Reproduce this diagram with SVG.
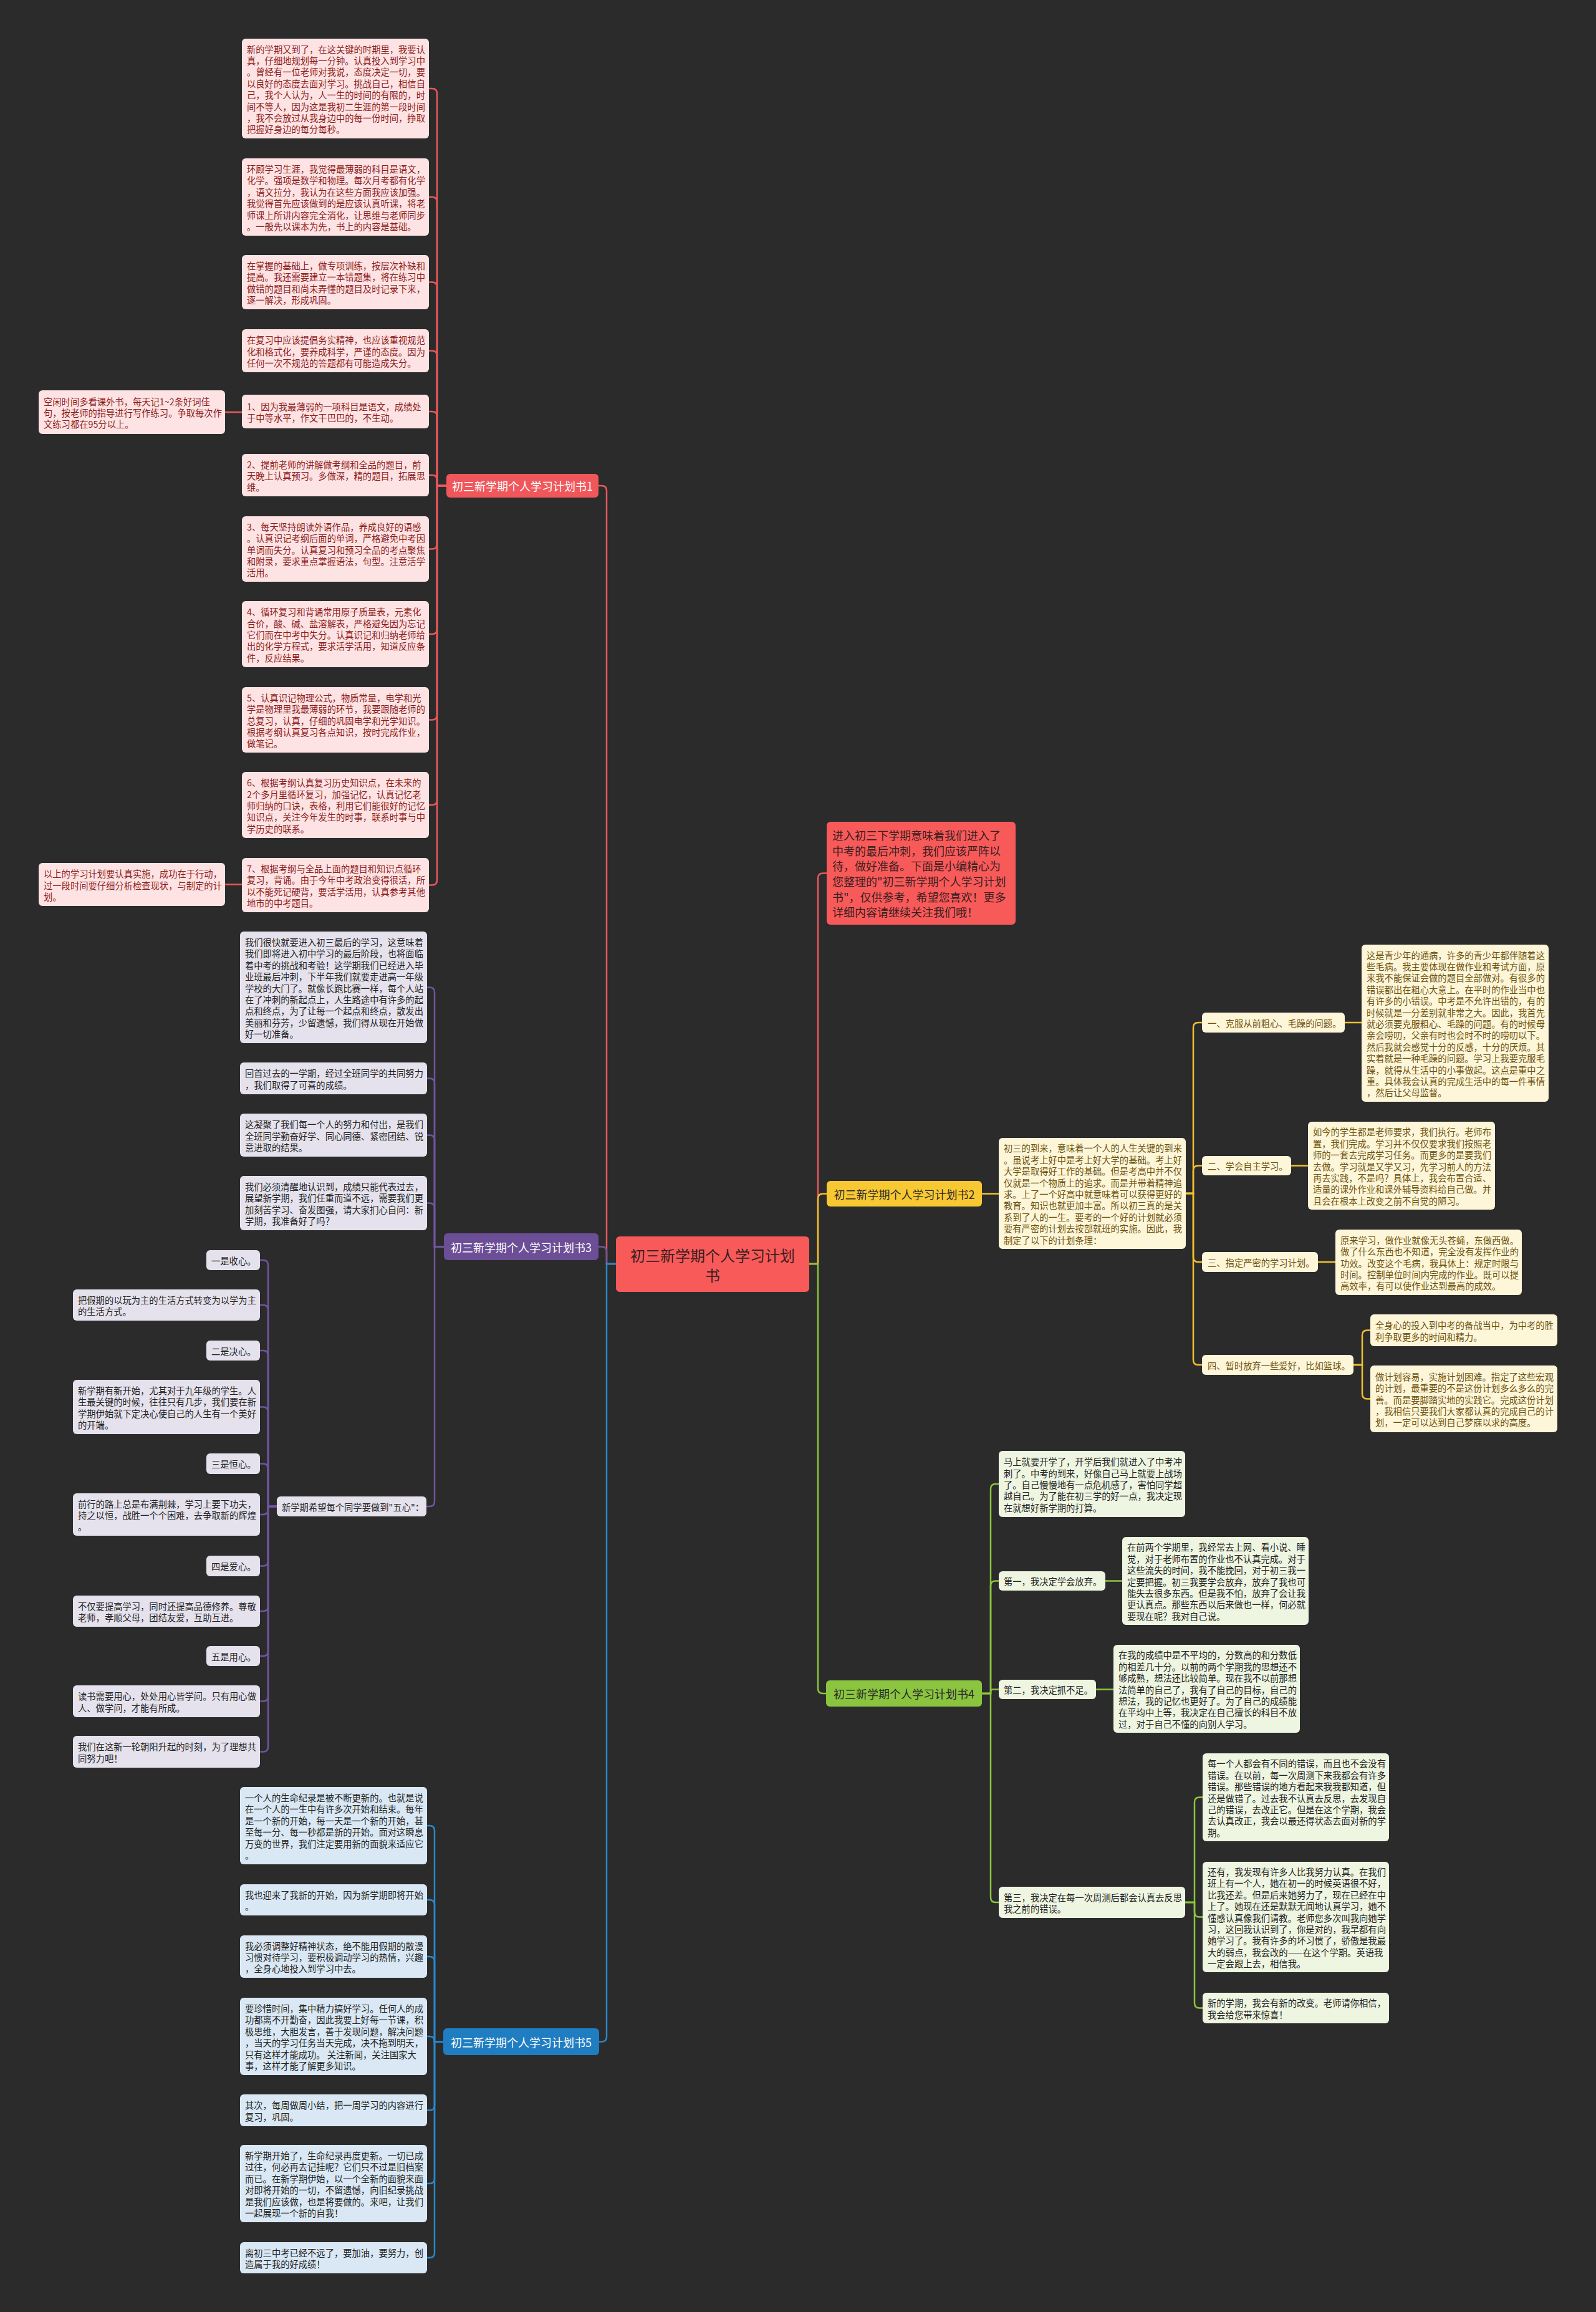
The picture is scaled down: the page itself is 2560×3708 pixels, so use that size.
<svg xmlns="http://www.w3.org/2000/svg" width="2560" height="3708" viewBox="0 0 2560 3708">
<style>
text{font-family:"Noto Sans CJK SC","Noto Sans",sans-serif;dominant-baseline:central}
.b{font-size:14.3px}
.r1{fill:#fde3e3}.x1{fill:#8e1c1c}
.r2{fill:#fdf6d9}.x2{fill:#6e520e}
.r3{fill:#e5e2ed}.x3{fill:#222}
.r4{fill:#eef5e1}.x4{fill:#222}
.r5{fill:#d9e8f4}.x5{fill:#222}
.lab{font-size:18px;text-anchor:middle}
.w{fill:#fff}.k{fill:#2a2a2a}
.c{fill:none;stroke-width:2.5;stroke-linecap:round}
.cr{stroke:#e8585c}.cy{stroke:#f2c12e}.cp{stroke:#6f55a0}.cg{stroke:#8bc53f}.cb{stroke:#2b87c9}
</style>
<rect x="0" y="0" width="2560" height="3708" fill="#2b2b2b"/>

<g id="connectors">
<!-- center to branches -->
<path class="c cr" stroke-width="3" d="M988 2027H973V787Q973 779 965 779H960"/>
<path class="c cp" stroke-width="3" d="M988 2027H973V2007.5Q973 1999.5 965 1999.5H960"/>
<path class="c cb" stroke-width="3" d="M988 2027H973V3266.5Q973 3274.5 965 3274.5H961"/>
<path class="c cr" stroke-width="3" d="M1298 2027H1312V1408.5Q1312 1400.5 1320 1400.5H1326"/>
<path class="c cy" stroke-width="3" d="M1298 2027H1312V1922.5Q1312 1914.5 1320 1914.5H1326"/>
<path class="c cg" stroke-width="3" d="M1298 2027H1312V2708Q1312 2716 1320 2716H1325"/>
<!-- branch 1 -->
<path class="c cr" d="M716 779H701V150Q701 142 693 142H688"/>
<path class="c cr" d="M716 779H701V324Q701 316 693 316H688"/>
<path class="c cr" d="M716 779H701V460.5Q701 452.5 693 452.5H688"/>
<path class="c cr" d="M716 779H701V570.5Q701 562.5 693 562.5H688"/>
<path class="c cr" d="M716 779H701V668Q701 660 693 660H688"/>
<path class="c cr" d="M716 779H701V770Q701 762 693 762H688"/>
<path class="c cr" d="M716 779H701V872.5Q701 880.5 693 880.5H688"/>
<path class="c cr" d="M716 779H701V1009Q701 1017 693 1017H688"/>
<path class="c cr" d="M716 779H701V1146.5Q701 1154.5 693 1154.5H688"/>
<path class="c cr" d="M716 779H701V1283Q701 1291 693 1291H688"/>
<path class="c cr" d="M716 779H701V1411.5Q701 1419.5 693 1419.5H688"/>
<path class="c cr" d="M389 661H361"/>
<path class="c cr" d="M389 1418.5H361"/>
<!-- branch 3 -->
<path class="c cp" d="M712 1999.5H697V1591.5Q697 1583.5 689 1583.5H685"/>
<path class="c cp" d="M712 1999.5H697V1737.5Q697 1729.5 689 1729.5H685"/>
<path class="c cp" d="M712 1999.5H697V1828.5Q697 1820.5 689 1820.5H685"/>
<path class="c cp" d="M712 1999.5H697V1937.5Q697 1929.5 689 1929.5H685"/>
<path class="c cp" d="M712 1999.5H697V2408Q697 2416 689 2416H684"/>
<path class="c cp" d="M444 2416H430V2029Q430 2021 422 2021H417"/>
<path class="c cp" d="M444 2416H430V2101Q430 2093 422 2093H417"/>
<path class="c cp" d="M444 2416H430V2174Q430 2166 422 2166H417"/>
<path class="c cp" d="M444 2416H430V2264.5Q430 2256.5 422 2256.5H417"/>
<path class="c cp" d="M444 2416H430V2355.5Q430 2347.5 422 2347.5H417"/>
<path class="c cp" d="M444 2416H430V2421Q430 2429 422 2429H417"/>
<path class="c cp" d="M444 2416H430V2503.5Q430 2511.5 422 2511.5H417"/>
<path class="c cp" d="M444 2416H430V2576Q430 2584 422 2584H417"/>
<path class="c cp" d="M444 2416H430V2648Q430 2656 422 2656H417"/>
<path class="c cp" d="M444 2416H430V2720.5Q430 2728.5 422 2728.5H417"/>
<path class="c cp" d="M444 2416H430V2801.5Q430 2809.5 422 2809.5H417"/>
<!-- branch 5 -->
<path class="c cb" d="M711 3274.5H697V2936Q697 2928 689 2928H685"/>
<path class="c cb" d="M711 3274.5H697V3055Q697 3047 689 3047H685"/>
<path class="c cb" d="M711 3274.5H697V3146Q697 3138 689 3138H685"/>
<path class="c cb" d="M711 3274.5H697V3274Q697 3266 689 3266H685"/>
<path class="c cb" d="M711 3274.5H697V3376.5Q697 3384.5 689 3384.5H685"/>
<path class="c cb" d="M711 3274.5H697V3494Q697 3502 689 3502H685"/>
<path class="c cb" d="M711 3274.5H697V3613Q697 3621 689 3621H685"/>
<!-- branch 2 -->
<path class="c cy" d="M1575 1914.5H1602"/>
<path class="c cy" d="M1902 1914H1914V1648Q1914 1640 1922 1640H1928"/>
<path class="c cy" d="M1902 1914H1914V1877.5Q1914 1869.5 1922 1869.5H1928"/>
<path class="c cy" d="M1902 1914H1914V2016Q1914 2024 1922 2024H1928"/>
<path class="c cy" d="M1902 1914H1914V2181Q1914 2189 1922 2189H1928"/>
<path class="c cy" d="M2157 1640H2184"/>
<path class="c cy" d="M2071 1869.5H2098"/>
<path class="c cy" d="M2114 2024H2142"/>
<path class="c cy" d="M2171 2189H2185V2141.5Q2185 2133.5 2193 2133.5H2198"/>
<path class="c cy" d="M2171 2189H2185V2235.5Q2185 2243.5 2193 2243.5H2198"/>
<!-- branch 4 -->
<path class="c cg" d="M1575 2716H1589V2388Q1589 2380 1597 2380H1602"/>
<path class="c cg" d="M1575 2716H1589V2543.5Q1589 2535.5 1597 2535.5H1602"/>
<path class="c cg" d="M1575 2716H1589V2713Q1589 2709.5 1592.5 2709.5H1602"/>
<path class="c cg" d="M1575 2716H1589V3043Q1589 3051 1597 3051H1602"/>
<path class="c cg" d="M1773 2535.5H1800"/>
<path class="c cg" d="M1758 2709.5H1786"/>
<path class="c cg" d="M1901 3051H1916V2890.5Q1916 2882.5 1924 2882.5H1929"/>
<path class="c cg" d="M1901 3051H1916V3066.5Q1916 3074.5 1924 3074.5H1929"/>
<path class="c cg" d="M1901 3051H1916V3212.5Q1916 3220.5 1924 3220.5H1929"/>
</g>

<g id="center">
<rect x="988" y="1983" width="310" height="89" rx="6" fill="#f85a5a"/>
<text x="1143" font-size="24px" text-anchor="middle" fill="#3a1f1f"><tspan x="1143" y="2012">初三新学期个人学习计划</tspan><tspan x="1143" y="2044">书</tspan></text>
</g>

<g id="intro">
<rect x="1326" y="1318" width="303" height="165" rx="6" fill="#f85a5a"/>
<text font-size="18px" fill="#3a1f1f"><tspan x="1335" y="1338.8">进入初三下学期意味着我们进入了</tspan><tspan x="1335" y="1363.5">中考的最后冲刺，我们应该严阵以</tspan><tspan x="1335" y="1388.2">待，做好准备。下面是小编精心为</tspan><tspan x="1335" y="1412.9">您整理的"初三新学期个人学习计划</tspan><tspan x="1335" y="1437.6">书"，仅供参考，希望您喜欢！更多</tspan><tspan x="1335" y="1462.3">详细内容请继续关注我们哦！</tspan></text>
</g>

<!-- Branch 1 -->
<g id="branch1">
<rect x="716" y="760" width="244" height="38" rx="6" fill="#f0575b"/>
<text class="lab w" x="838" y="779">初三新学期个人学习计划书1</text>
</g>
<g id="a1"><rect class="r1" x="388" y="62" width="300" height="160" rx="6"/>
<text class="b x1"><tspan x="396" y="77.6">新的学期又到了，在这关键的时期里，我要认</tspan><tspan x="396" y="96">真，仔细地规划每一分钟。认真投入到学习中</tspan><tspan x="396" y="114.4">。曾经有一位老师对我说，态度决定一切，要</tspan><tspan x="396" y="132.8">以良好的态度去面对学习。挑战自己，相信自</tspan><tspan x="396" y="151.2">己，我个人认为，人一生的时间的有限的，时</tspan><tspan x="396" y="169.6">间不等人，因为这是我初二生涯的第一段时间</tspan><tspan x="396" y="188">，我不会放过从我身边中的每一份时间，挣取</tspan><tspan x="396" y="206.4">把握好身边的每分每秒。</tspan></text></g>
<g id="a2"><rect class="r1" x="388" y="254" width="300" height="124" rx="6"/>
<text class="b x1"><tspan x="396" y="270">环顾学习生涯，我觉得最薄弱的科目是语文，</tspan><tspan x="396" y="288.4">化学。强项是数学和物理。每次月考都有化学</tspan><tspan x="396" y="306.8">，语文拉分，我认为在这些方面我应该加强。</tspan><tspan x="396" y="325.2">我觉得首先应该做到的是应该认真听课，将老</tspan><tspan x="396" y="343.6">师课上所讲内容完全消化，让思维与老师同步</tspan><tspan x="396" y="362">。一般先以课本为先，书上的内容是基础。</tspan></text></g>
<g id="a3"><rect class="r1" x="388" y="409" width="300" height="87" rx="6"/>
<text class="b x1"><tspan x="396" y="424.9">在掌握的基础上，做专项训练，按层次补缺和</tspan><tspan x="396" y="443.3">提高。我还需要建立一本错题集，将在练习中</tspan><tspan x="396" y="461.7">做错的题目和尚未弄懂的题目及时记录下来，</tspan><tspan x="396" y="480.1">逐一解决，形成巩固。</tspan></text></g>
<g id="a4"><rect class="r1" x="388" y="528" width="300" height="69" rx="6"/>
<text class="b x1"><tspan x="396" y="544.1">在复习中应该提倡务实精神，也应该重视规范</tspan><tspan x="396" y="562.5">化和格式化，要养成科学，严谨的态度。因为</tspan><tspan x="396" y="580.9">任何一次不规范的答题都有可能造成失分。</tspan></text></g>
<g id="a5"><rect class="r1" x="388" y="633" width="300" height="54" rx="6"/>
<text class="b x1"><tspan x="396" y="650.8">1、因为我最薄弱的一项科目是语文，成绩处</tspan><tspan x="396" y="669.2">于中等水平，作文干巴巴的，不生动。</tspan></text></g>
<g id="n1"><rect class="r1" x="62" y="626" width="299" height="70" rx="6"/>
<text class="b x1"><tspan x="70" y="642.6">空闲时间多看课外书，每天记1~2条好词佳</tspan><tspan x="70" y="661">句，按老师的指导进行写作练习。争取每次作</tspan><tspan x="70" y="679.4">文练习都在95分以上。</tspan></text></g>
<g id="a6"><rect class="r1" x="388" y="728" width="300" height="68" rx="6"/>
<text class="b x1"><tspan x="396" y="743.6">2、提前老师的讲解做考纲和全品的题目，前</tspan><tspan x="396" y="762">天晚上认真预习。多做深，精的题目，拓展思</tspan><tspan x="396" y="780.4">维。</tspan></text></g>
<g id="a7"><rect class="r1" x="388" y="828" width="300" height="105" rx="6"/>
<text class="b x1"><tspan x="396" y="843.7">3、每天坚持朗读外语作品，养成良好的语感</tspan><tspan x="396" y="862.1">。认真识记考纲后面的单词，严格避免中考因</tspan><tspan x="396" y="880.5">单词而失分。认真复习和预习全品的考点聚焦</tspan><tspan x="396" y="898.9">和附录，要求重点掌握语法，句型。注意活学</tspan><tspan x="396" y="917.3">活用。</tspan></text></g>
<g id="a8"><rect class="r1" x="388" y="964" width="300" height="106" rx="6"/>
<text class="b x1"><tspan x="396" y="980.2">4、循环复习和背诵常用原子质量表，元素化</tspan><tspan x="396" y="998.6">合价，酸、碱、盐溶解表，严格避免因为忘记</tspan><tspan x="396" y="1017">它们而在中考中失分。认真识记和归纳老师给</tspan><tspan x="396" y="1035.4">出的化学方程式，要求活学活用，知道反应条</tspan><tspan x="396" y="1053.8">件，反应结果。</tspan></text></g>
<g id="a9"><rect class="r1" x="388" y="1102" width="300" height="105" rx="6"/>
<text class="b x1"><tspan x="396" y="1117.7">5、认真识记物理公式，物质常量，电学和光</tspan><tspan x="396" y="1136.1">学是物理里我最薄弱的环节，我要跟随老师的</tspan><tspan x="396" y="1154.5">总复习，认真，仔细的巩固电学和光学知识。</tspan><tspan x="396" y="1172.9">根据考纲认真复习各点知识，按时完成作业，</tspan><tspan x="396" y="1191.3">做笔记。</tspan></text></g>
<g id="a10"><rect class="r1" x="388" y="1238" width="300" height="106" rx="6"/>
<text class="b x1"><tspan x="396" y="1254.2">6、根据考纲认真复习历史知识点，在未来的</tspan><tspan x="396" y="1272.6">2个多月里循环复习，加强记忆，认真记忆老</tspan><tspan x="396" y="1291">师归纳的口诀，表格，利用它们能很好的记忆</tspan><tspan x="396" y="1309.4">知识点，关注今年发生的时事，联系时事与中</tspan><tspan x="396" y="1327.8">学历史的联系。</tspan></text></g>
<g id="a11"><rect class="r1" x="388" y="1376" width="300" height="87" rx="6"/>
<text class="b x1"><tspan x="396" y="1391.9">7、根据考纲与全品上面的题目和知识点循环</tspan><tspan x="396" y="1410.3">复习，背诵。由于今年中考政治变得很活，所</tspan><tspan x="396" y="1428.7">以不能死记硬背，要活学活用，认真参考其他</tspan><tspan x="396" y="1447.1">地市的中考题目。</tspan></text></g>
<g id="n2"><rect class="r1" x="62" y="1384" width="299" height="69" rx="6"/>
<text class="b x1"><tspan x="70" y="1400.1">以上的学习计划要认真实施，成功在于行动，</tspan><tspan x="70" y="1418.5">过一段时间要仔细分析检查现状，与制定的计</tspan><tspan x="70" y="1436.9">划。</tspan></text></g>

<!-- Branch 3 -->
<g id="branch3">
<rect x="712" y="1978" width="248" height="43" rx="6" fill="#6b4e96"/>
<text class="lab w" x="836" y="1999.5">初三新学期个人学习计划书3</text>
</g>
<g id="b1"><rect class="r3" x="385" y="1494" width="300" height="179" rx="6"/>
<text class="b x3"><tspan x="393" y="1509.9">我们很快就要进入初三最后的学习，这意味着</tspan><tspan x="393" y="1528.3">我们即将进入初中学习的最后阶段，也将面临</tspan><tspan x="393" y="1546.7">着中考的挑战和考验！这学期我们已经进入毕</tspan><tspan x="393" y="1565.1">业班最后冲刺，下半年我们就要走进高一年级</tspan><tspan x="393" y="1583.5">学校的大门了。就像长跑比赛一样，每个人站</tspan><tspan x="393" y="1601.9">在了冲刺的新起点上，人生路途中有许多的起</tspan><tspan x="393" y="1620.3">点和终点，为了让每一个起点和终点，散发出</tspan><tspan x="393" y="1638.7">美丽和芬芳，少留遗憾，我们得从现在开始做</tspan><tspan x="393" y="1657.1">好一切准备。</tspan></text></g>
<g id="b2"><rect class="r3" x="385" y="1704" width="300" height="51" rx="6"/>
<text class="b x3"><tspan x="393" y="1720.3">回首过去的一学期，经过全班同学的共同努力</tspan><tspan x="393" y="1738.7">，我们取得了可喜的成绩。</tspan></text></g>
<g id="b3"><rect class="r3" x="385" y="1786" width="300" height="69" rx="6"/>
<text class="b x3"><tspan x="393" y="1802.1">这凝聚了我们每一个人的努力和付出，是我们</tspan><tspan x="393" y="1820.5">全班同学勤奋好学、同心同德、紧密团结、锐</tspan><tspan x="393" y="1838.9">意进取的结果。</tspan></text></g>
<g id="b4"><rect class="r3" x="385" y="1886" width="300" height="87" rx="6"/>
<text class="b x3"><tspan x="393" y="1901.9">我们必须清醒地认识到，成绩只能代表过去，</tspan><tspan x="393" y="1920.3">展望新学期，我们任重而道不远，需要我们更</tspan><tspan x="393" y="1938.7">加刻苦学习、奋发图强，请大家扪心自问：新</tspan><tspan x="393" y="1957.1">学期，我准备好了吗？</tspan></text></g>
<g id="c0"><rect class="r3" x="444" y="2400" width="240" height="32" rx="6"/>
<text class="b x3" x="452" y="2416">新学期希望每个同学要做到"五心"：</text></g>
<g id="c1"><rect class="r3" x="331" y="2005" width="86" height="32" rx="6"/>
<text class="b x3" x="339" y="2021">一是收心。</text></g>
<g id="c2"><rect class="r3" x="117" y="2068" width="300" height="50" rx="6"/>
<text class="b x3"><tspan x="125" y="2083.8">把假期的以玩为主的生活方式转变为以学为主</tspan><tspan x="125" y="2102.2">的生活方式。</tspan></text></g>
<g id="c3"><rect class="r3" x="331" y="2150" width="86" height="32" rx="6"/>
<text class="b x3" x="339" y="2166">二是决心。</text></g>
<g id="c4"><rect class="r3" x="117" y="2213" width="300" height="87" rx="6"/>
<text class="b x3"><tspan x="125" y="2228.9">新学期有新开始，尤其对于九年级的学生。人</tspan><tspan x="125" y="2247.3">生最关键的时候，往往只有几步，我们要在新</tspan><tspan x="125" y="2265.7">学期伊始就下定决心使自己的人生有一个美好</tspan><tspan x="125" y="2284.1">的开端。</tspan></text></g>
<g id="c5"><rect class="r3" x="331" y="2331" width="86" height="33" rx="6"/>
<text class="b x3" x="339" y="2347.5">三是恒心。</text></g>
<g id="c6"><rect class="r3" x="117" y="2395" width="300" height="68" rx="6"/>
<text class="b x3"><tspan x="125" y="2410.6">前行的路上总是布满荆棘，学习上要下功夫，</tspan><tspan x="125" y="2429">持之以恒，战胜一个个困难，去争取新的辉煌</tspan><tspan x="125" y="2447.4">。</tspan></text></g>
<g id="c7"><rect class="r3" x="331" y="2495" width="86" height="33" rx="6"/>
<text class="b x3" x="339" y="2511.5">四是爱心。</text></g>
<g id="c8"><rect class="r3" x="117" y="2559" width="300" height="50" rx="6"/>
<text class="b x3"><tspan x="125" y="2574.8">不仅要提高学习，同时还提高品德修养。尊敬</tspan><tspan x="125" y="2593.2">老师，孝顺父母，团结友爱，互助互进。</tspan></text></g>
<g id="c9"><rect class="r3" x="331" y="2640" width="86" height="32" rx="6"/>
<text class="b x3" x="339" y="2656">五是用心。</text></g>
<g id="c10"><rect class="r3" x="117" y="2703" width="300" height="51" rx="6"/>
<text class="b x3"><tspan x="125" y="2719.3">读书需要用心，处处用心皆学问。只有用心做</tspan><tspan x="125" y="2737.7">人、做学问，才能有所成。</tspan></text></g>
<g id="c11"><rect class="r3" x="117" y="2784" width="300" height="51" rx="6"/>
<text class="b x3"><tspan x="125" y="2800.3">我们在这新一轮朝阳升起的时刻，为了理想共</tspan><tspan x="125" y="2818.7">同努力吧！</tspan></text></g>

<!-- Branch 5 -->
<g id="branch5">
<rect x="711" y="3253" width="250" height="43" rx="6" fill="#1f7dc2"/>
<text class="lab w" x="836" y="3274.5">初三新学期个人学习计划书5</text>
</g>
<g id="d1"><rect class="r5" x="385" y="2866" width="300" height="124" rx="6"/>
<text class="b x5"><tspan x="393" y="2882">一个人的生命纪录是被不断更新的。也就是说</tspan><tspan x="393" y="2900.4">在一个人的一生中有许多次开始和结束。每年</tspan><tspan x="393" y="2918.8">是一个新的开始，每一天是一个新的开始，甚</tspan><tspan x="393" y="2937.2">至每一分、每一秒都是新的开始。面对这瞬息</tspan><tspan x="393" y="2955.6">万变的世界，我们注定要用新的面貌来适应它</tspan><tspan x="393" y="2974">。</tspan></text></g>
<g id="d2"><rect class="r5" x="385" y="3022" width="300" height="50" rx="6"/>
<text class="b x5"><tspan x="393" y="3037.8">我也迎来了我新的开始，因为新学期即将开始</tspan><tspan x="393" y="3056.2">。</tspan></text></g>
<g id="d3"><rect class="r5" x="385" y="3104" width="300" height="68" rx="6"/>
<text class="b x5"><tspan x="393" y="3119.6">我必须调整好精神状态，绝不能用假期的散漫</tspan><tspan x="393" y="3138">习惯对待学习，要积极调动学习的热情，兴趣</tspan><tspan x="393" y="3156.4">，全身心地投入到学习中去。</tspan></text></g>
<g id="d4"><rect class="r5" x="385" y="3204" width="300" height="124" rx="6"/>
<text class="b x5"><tspan x="393" y="3220">要珍惜时间，集中精力搞好学习。任何人的成</tspan><tspan x="393" y="3238.4">功都离不开勤奋，因此我要上好每一节课，积</tspan><tspan x="393" y="3256.8">极思维，大胆发言，善于发现问题，解决问题</tspan><tspan x="393" y="3275.2">，当天的学习任务当天完成，决不拖到明天，</tspan><tspan x="393" y="3293.6">只有这样才能成功。 关注新闻，关注国家大</tspan><tspan x="393" y="3312">事，这样才能了解更多知识。</tspan></text></g>
<g id="d5"><rect class="r5" x="385" y="3359" width="300" height="51" rx="6"/>
<text class="b x5"><tspan x="393" y="3375.3">其次，每周做周小结，把一周学习的内容进行</tspan><tspan x="393" y="3393.7">复习，巩固。</tspan></text></g>
<g id="d6"><rect class="r5" x="385" y="3440" width="300" height="124" rx="6"/>
<text class="b x5"><tspan x="393" y="3456">新学期开始了，生命纪录再度更新。一切已成</tspan><tspan x="393" y="3474.4">过往，何必再去记挂呢？它们只不过是旧档案</tspan><tspan x="393" y="3492.8">而已。在新学期伊始，以一个全新的面貌来面</tspan><tspan x="393" y="3511.2">对即将开始的一切，不留遗憾，向旧纪录挑战</tspan><tspan x="393" y="3529.6">是我们应该做，也是将要做的。来吧，让我们</tspan><tspan x="393" y="3548">一起展现一个新的自我！</tspan></text></g>
<g id="d7"><rect class="r5" x="385" y="3596" width="300" height="50" rx="6"/>
<text class="b x5"><tspan x="393" y="3611.8">离初三中考已经不远了，要加油，要努力，创</tspan><tspan x="393" y="3630.2">造属于我的好成绩！</tspan></text></g>

<!-- Branch 2 -->
<g id="branch2">
<rect x="1326" y="1894" width="249" height="41" rx="6" fill="#f8c832"/>
<text class="lab k" x="1450.5" y="1914.5">初三新学期个人学习计划书2</text>
</g>
<g id="e0"><rect class="r2" x="1602" y="1825" width="300" height="178" rx="6"/>
<text class="b x2"><tspan x="1610" y="1840.4">初三的到来，意味着一个人的人生关键的到来</tspan><tspan x="1610" y="1858.8">。虽说考上好中是考上好大学的基础。考上好</tspan><tspan x="1610" y="1877.2">大学是取得好工作的基础。但是考高中并不仅</tspan><tspan x="1610" y="1895.6">仅就是一个物质上的追求。而是并带着精神追</tspan><tspan x="1610" y="1914">求。上了一个好高中就意味着可以获得更好的</tspan><tspan x="1610" y="1932.4">教育。知识也就更加丰富。所以初三真的是关</tspan><tspan x="1610" y="1950.8">系到了人的一生。要考的一个好的计划就必须</tspan><tspan x="1610" y="1969.2">要有严密的计划去按部就班的实施。因此，我</tspan><tspan x="1610" y="1987.6">制定了以下的计划条理：</tspan></text></g>
<g id="f1"><rect class="r2" x="1928" y="1624" width="229" height="32" rx="6"/>
<text class="b x2" x="1937" y="1640">一、克服从前粗心、毛躁的问题。</text></g>
<g id="g1"><rect class="r2" x="2184" y="1515" width="300" height="252" rx="6"/>
<text class="b x2"><tspan x="2192" y="1530.6">这是青少年的通病，许多的青少年都伴随着这</tspan><tspan x="2192" y="1549">些毛病。我主要体现在做作业和考试方面，原</tspan><tspan x="2192" y="1567.4">来我不能保证会做的题目全部做对。有很多的</tspan><tspan x="2192" y="1585.8">错误都出在粗心大意上。在平时的作业当中也</tspan><tspan x="2192" y="1604.2">有许多的小错误。中考是不允许出错的，有的</tspan><tspan x="2192" y="1622.6">时候就是一分差别就非常之大。因此，我首先</tspan><tspan x="2192" y="1641">就必须要克服粗心、毛躁的问题。有的时候母</tspan><tspan x="2192" y="1659.4">亲会唠叨，父亲有时也会时不时的唠叨以下。</tspan><tspan x="2192" y="1677.8">然后我就会感觉十分的反感，十分的厌烦。其</tspan><tspan x="2192" y="1696.2">实着就是一种毛躁的问题。学习上我要克服毛</tspan><tspan x="2192" y="1714.6">躁，就得从生活中的小事做起。这点是重中之</tspan><tspan x="2192" y="1733">重。具体我会认真的完成生活中的每一件事情</tspan><tspan x="2192" y="1751.4">，然后让父母监督。</tspan></text></g>
<g id="f2"><rect class="r2" x="1928" y="1854" width="143" height="31" rx="6"/>
<text class="b x2" x="1937" y="1869.5">二、学会自主学习。</text></g>
<g id="g2"><rect class="r2" x="2098" y="1799" width="300" height="141" rx="6"/>
<text class="b x2"><tspan x="2106" y="1814.3">如今的学生都是老师要求，我们执行。老师布</tspan><tspan x="2106" y="1832.7">置，我们完成。学习并不仅仅要求我们按照老</tspan><tspan x="2106" y="1851.1">师的一套去完成学习任务。而更多的是要我们</tspan><tspan x="2106" y="1869.5">去做。学习就是又学又习，先学习前人的方法</tspan><tspan x="2106" y="1887.9">再去实践，不是吗？具体上，我会布置合适、</tspan><tspan x="2106" y="1906.3">适量的课外作业和课外辅导资料给自己做。并</tspan><tspan x="2106" y="1924.7">且会在根本上改变之前不自觉的陋习。</tspan></text></g>
<g id="f3"><rect class="r2" x="1928" y="2008" width="186" height="32" rx="6"/>
<text class="b x2" x="1937" y="2024">三、指定严密的学习计划。</text></g>
<g id="g3"><rect class="r2" x="2142" y="1972" width="299" height="105" rx="6"/>
<text class="b x2"><tspan x="2150" y="1987.7">原来学习，做作业就像无头苍蝇，东做西做。</tspan><tspan x="2150" y="2006.1">做了什么东西也不知道，完全没有发挥作业的</tspan><tspan x="2150" y="2024.5">功效。改变这个毛病，我具体上：规定时限与</tspan><tspan x="2150" y="2042.9">时间。控制单位时间内完成的作业。既可以提</tspan><tspan x="2150" y="2061.3">高效率，有可以使作业达到最高的成效。</tspan></text></g>
<g id="f4"><rect class="r2" x="1928" y="2173" width="243" height="32" rx="6"/>
<text class="b x2" x="1937" y="2189">四、暂时放弃一些爱好，比如篮球。</text></g>
<g id="g4a"><rect class="r2" x="2198" y="2108" width="300" height="51" rx="6"/>
<text class="b x2"><tspan x="2206" y="2124.3">全身心的投入到中考的备战当中，为中考的胜</tspan><tspan x="2206" y="2142.7">利争取更多的时间和精力。</tspan></text></g>
<g id="g4b"><rect class="r2" x="2198" y="2190" width="300" height="107" rx="6"/>
<text class="b x2"><tspan x="2206" y="2206.7">做计划容易，实施计划困难。指定了这些宏观</tspan><tspan x="2206" y="2225.1">的计划，最重要的不是这份计划多么多么的完</tspan><tspan x="2206" y="2243.5">善。而是要脚踏实地的实践它。完成这份计划</tspan><tspan x="2206" y="2261.9">，我相信只要我们大家都认真的完成自己的计</tspan><tspan x="2206" y="2280.3">划，一定可以达到自己梦寐以求的高度。</tspan></text></g>

<!-- Branch 4 -->
<g id="branch4">
<rect x="1325" y="2695" width="250" height="42" rx="6" fill="#8bc53f"/>
<text class="lab k" x="1450" y="2716">初三新学期个人学习计划书4</text>
</g>
<g id="h0"><rect class="r4" x="1602" y="2327" width="299" height="106" rx="6"/>
<text class="b x4"><tspan x="1610" y="2343.2">马上就要开学了，开学后我们就进入了中考冲</tspan><tspan x="1610" y="2361.6">刺了。中考的到来，好像自己马上就要上战场</tspan><tspan x="1610" y="2380">了。自己慢慢地有一点危机感了，害怕同学超</tspan><tspan x="1610" y="2398.4">越自己。为了能在初三学的好一点，我决定现</tspan><tspan x="1610" y="2416.8">在就想好新学期的打算。</tspan></text></g>
<g id="h1"><rect class="r4" x="1602" y="2520" width="171" height="31" rx="6"/>
<text class="b x4" x="1610" y="2535.5">第一，我决定学会放弃。</text></g>
<g id="i1"><rect class="r4" x="1800" y="2465" width="299" height="141" rx="6"/>
<text class="b x4"><tspan x="1808" y="2480.3">在前两个学期里，我经常去上网、看小说、睡</tspan><tspan x="1808" y="2498.7">觉，对于老师布置的作业也不认真完成。对于</tspan><tspan x="1808" y="2517.1">这些流失的时间，我不能挽回，对于初三我一</tspan><tspan x="1808" y="2535.5">定要把握。初三我要学会放弃，放弃了我也可</tspan><tspan x="1808" y="2553.9">能失去很多东西。但是我不怕，放弃了会让我</tspan><tspan x="1808" y="2572.3">更认真点。那些东西以后来做也一样，何必就</tspan><tspan x="1808" y="2590.7">要现在呢？我对自己说。</tspan></text></g>
<g id="h2"><rect class="r4" x="1602" y="2694" width="156" height="31" rx="6"/>
<text class="b x4" x="1610" y="2709.5">第二，我决定抓不足。</text></g>
<g id="i2"><rect class="r4" x="1786" y="2638" width="299" height="141" rx="6"/>
<text class="b x4"><tspan x="1794" y="2653.3">在我的成绩中是不平均的，分数高的和分数低</tspan><tspan x="1794" y="2671.7">的相差几十分。以前的两个学期我的思想还不</tspan><tspan x="1794" y="2690.1">够成熟，想法还比较简单。现在我不以前那想</tspan><tspan x="1794" y="2708.5">法简单的自己了，我有了自己的目标，自己的</tspan><tspan x="1794" y="2726.9">想法，我的记忆也更好了。为了自己的成绩能</tspan><tspan x="1794" y="2745.3">在平均中上等，我决定在自己擅长的科目不放</tspan><tspan x="1794" y="2763.7">过，对于自己不懂的向别人学习。</tspan></text></g>
<g id="h3"><rect class="r4" x="1602" y="3026" width="299" height="50" rx="6"/>
<text class="b x4"><tspan x="1610" y="3041.8">第三，我决定在每一次周测后都会认真去反思</tspan><tspan x="1610" y="3060.2">我之前的错误。</tspan></text></g>
<g id="i3a"><rect class="r4" x="1929" y="2812" width="299" height="141" rx="6"/>
<text class="b x4"><tspan x="1937" y="2827.3">每一个人都会有不同的错误，而且也不会没有</tspan><tspan x="1937" y="2845.7">错误。在以前，每一次周测下来我都会有许多</tspan><tspan x="1937" y="2864.1">错误。那些错误的地方看起来我我都知道，但</tspan><tspan x="1937" y="2882.5">还是做错了。过去我不认真去反思，去发现自</tspan><tspan x="1937" y="2900.9">己的错误，去改正它。但是在这个学期，我会</tspan><tspan x="1937" y="2919.3">去认真改正，我会以最还得状态去面对新的学</tspan><tspan x="1937" y="2937.7">期。</tspan></text></g>
<g id="i3b"><rect class="r4" x="1929" y="2986" width="299" height="177" rx="6"/>
<text class="b x4"><tspan x="1937" y="3000.9">还有，我发现有许多人比我努力认真。在我们</tspan><tspan x="1937" y="3019.3">班上有一个人，她在初一的时候英语很不好，</tspan><tspan x="1937" y="3037.7">比我还差。但是后来她努力了，现在已经在中</tspan><tspan x="1937" y="3056.1">上了。她现在还是默默无闻地认真学习，她不</tspan><tspan x="1937" y="3074.5">懂感认真像我们请教。老师您多次叫我向她学</tspan><tspan x="1937" y="3092.9">习，这回我认识到了，你是对的，我早都有向</tspan><tspan x="1937" y="3111.3">她学习了。我有许多的坏习惯了，骄傲是我最</tspan><tspan x="1937" y="3129.7">大的弱点，我会改的——在这个学期。英语我</tspan><tspan x="1937" y="3148.1">一定会跟上去，相信我。</tspan></text></g>
<g id="i3c"><rect class="r4" x="1929" y="3196" width="299" height="49" rx="6"/>
<text class="b x4"><tspan x="1937" y="3211.3">新的学期，我会有新的改变。老师请你相信，</tspan><tspan x="1937" y="3229.7">我会给您带来惊喜！</tspan></text></g>
</svg>
